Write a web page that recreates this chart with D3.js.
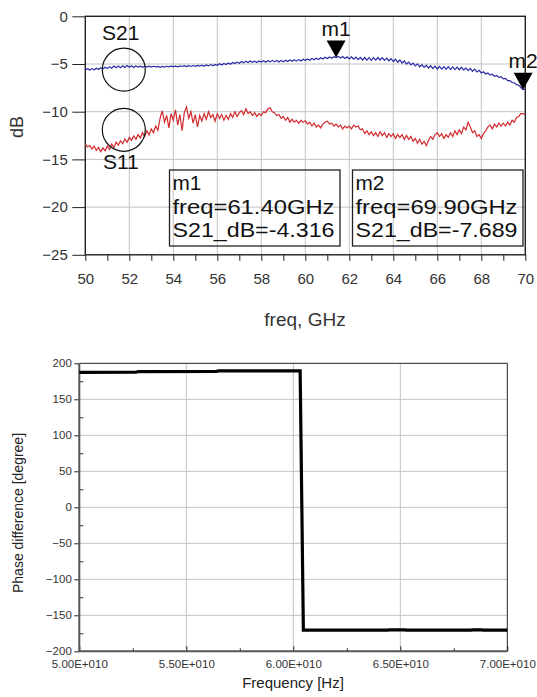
<!DOCTYPE html>
<html>
<head>
<meta charset="utf-8">
<script src="https://cdn.jsdelivr.net/npm/d3@7"></script>
<style>
	body { margin: 0; background: #fff; }
	svg { display: block; font-family: "Liberation Sans", Arial, sans-serif; }
	.grid line { stroke: #c2c2c2; stroke-width: 1; }
	.axis text { fill: #333; }
	.axis line { stroke: #222; }
</style>
</head>
<body>
<svg id="plot" width="537" height="697"></svg>
<script>

// S-parameter sweep, 50 GHz to 70 GHz in 0.1 GHz steps
const SWEEP_START = 50;
const SWEEP_STEP = 0.1;

const S21_DB = [
	-5.62, -5.50, -5.64, -5.48, -5.60, -5.44, -5.58, -5.40, -5.52, -5.34,
	-5.48, -5.28, -5.44, -5.22, -5.40, -5.20, -5.38, -5.18, -5.36, -5.16,
	-5.34, -5.18, -5.36, -5.20, -5.32, -5.22, -5.34, -5.24, -5.30, -5.22,
	-5.32, -5.24, -5.30, -5.26, -5.34, -5.26, -5.32, -5.24, -5.30, -5.22,
	-5.28, -5.22, -5.30, -5.20, -5.26, -5.18, -5.28, -5.18, -5.26, -5.16,
	-5.24, -5.14, -5.22, -5.12, -5.24, -5.10, -5.20, -5.06, -5.18, -5.04,
	-5.14, -4.98, -5.10, -4.94, -5.06, -4.90, -5.02, -4.84, -4.96, -4.80,
	-4.92, -4.74, -4.88, -4.70, -4.84, -4.68, -4.82, -4.70, -4.84, -4.68,
	-4.80, -4.66, -4.82, -4.64, -4.78, -4.62, -4.78, -4.64, -4.80, -4.62,
	-4.76, -4.60, -4.74, -4.58, -4.72, -4.56, -4.70, -4.54, -4.68, -4.50,
	-4.64, -4.48, -4.60, -4.42, -4.56, -4.40, -4.52, -4.34, -4.48, -4.30,
	-4.42, -4.26, -4.40, -4.24, -4.32, -4.20, -4.38, -4.22, -4.42, -4.24,
	-4.46, -4.24, -4.50, -4.28, -4.54, -4.30, -4.58, -4.32, -4.60, -4.34,
	-4.62, -4.34, -4.60, -4.32, -4.58, -4.34, -4.62, -4.38, -4.66, -4.44,
	-4.74, -4.50, -4.82, -4.58, -4.90, -4.68, -5.00, -4.80, -5.10, -4.90,
	-5.20, -4.98, -5.30, -5.06, -5.36, -5.12, -5.42, -5.18, -5.48, -5.22,
	-5.52, -5.26, -5.54, -5.28, -5.56, -5.28, -5.58, -5.30, -5.58, -5.32,
	-5.60, -5.34, -5.64, -5.40, -5.70, -5.46, -5.76, -5.54, -5.84, -5.66,
	-5.94, -5.82, -6.04, -5.94, -6.16, -6.08, -6.28, -6.20, -6.40, -6.34,
	-6.56, -6.52, -6.74, -6.74, -6.94, -6.98, -7.16, -7.22, -7.46, -7.69,
	-7.62
];

const S11_DB = [
	-13.40, -13.70, -13.55, -13.90, -13.60, -14.05, -13.75, -14.20, -13.80, -14.10,
	-13.60, -13.95, -13.40, -13.75, -13.20, -13.50, -13.05, -13.35, -12.85, -13.20,
	-12.70, -13.00, -12.55, -12.90, -12.40, -12.75, -12.20, -12.60, -12.00, -12.45,
	-11.80, -12.20, -11.50, -11.95, -10.70, -9.90, -11.10, -10.40, -11.70, -10.20,
	-10.90, -9.80, -11.40, -10.30, -12.00, -10.10, -9.50, -10.70, -10.00, -11.20,
	-10.30, -11.60, -10.40, -11.00, -10.20, -10.80, -10.00, -10.60, -10.30, -11.00,
	-10.20, -10.70, -10.30, -10.90, -10.40, -10.80, -10.20, -10.60, -10.00, -10.50,
	-10.10, -9.90, -10.30, -9.70, -10.20, -10.00, -10.40, -10.10, -10.50, -10.20,
	-10.40, -10.00, -10.10, -9.70, -9.60, -10.00, -10.10, -10.40, -10.30, -10.70,
	-10.50, -10.90, -10.60, -11.10, -10.80, -11.10, -10.90, -11.20, -10.90, -11.10,
	-10.95, -11.30, -11.10, -11.50, -11.20, -11.60, -11.40, -11.70, -11.30, -11.10,
	-11.00, -11.30, -11.20, -11.50, -11.30, -11.60, -11.40, -11.80, -11.50, -11.70,
	-11.50, -11.80, -11.40, -11.60, -11.50, -11.90, -11.80, -12.30, -12.00, -12.40,
	-12.10, -12.50, -12.20, -12.60, -12.10, -12.50, -12.20, -12.70, -12.30, -12.60,
	-12.30, -12.80, -12.40, -12.70, -12.40, -12.90, -12.50, -12.90, -12.60, -13.10,
	-12.80, -13.30, -12.90, -13.40, -13.10, -13.55, -13.00, -12.60, -12.90, -12.40,
	-12.20, -12.60, -12.30, -12.80, -12.40, -12.70, -12.20, -12.60, -12.00, -12.40,
	-11.90, -12.30, -11.60, -11.90, -11.10, -11.60, -12.20, -12.00, -12.60, -12.40,
	-12.80, -12.30, -12.00, -11.60, -11.40, -11.80, -11.30, -11.60, -11.20, -11.50,
	-11.20, -11.50, -11.10, -11.40, -10.90, -11.10, -10.60, -10.50, -10.20, -10.20,
	-10.30
];

const GHZ_TICKS = [50, 52, 54, 56, 58, 60, 62, 64, 66, 68, 70];
const DB_TICKS = [0, -5, -10, -15, -20, -25];

const MARKER_NAMES = ['m1', 'm2'];
const MARKER_GHZ = [61.40, 69.90];
const MARKER_DB = [-4.316, -7.689];

// phase difference between the two outputs
const PHASE_HZ = [5.00e10, 5.265e10, 5.275e10, 5.640e10, 5.650e10, 6.032e10, 6.047e10, 6.440e10, 6.450e10, 6.520e10, 6.530e10, 6.830e10, 6.840e10, 6.880e10, 6.890e10, 7.00e10];
const PHASE_DEG = [187.5, 187.6, 188.5, 188.6, 189.5, 189.6, -170.6, -170.6, -170.2, -170.2, -170.6, -170.6, -170.2, -170.2, -170.6, -170.6];

const HZ_TICKS = [5.0e10, 5.5e10, 6.0e10, 6.5e10, 7.0e10];
const DEG_TICKS = [-200, -150, -100, -50, 0, 50, 100, 150, 200];


function whenDocumentLoaded(action) {
	if (document.readyState === "loading") {
		document.addEventListener("DOMContentLoaded", action);
	} else {
		action();
	}
}

function styleAxis(g, size) {
	g.select('.domain').remove();
	g.selectAll('text').attr('font-size', size);
	return g;
}

function drawSParams(svg) {
	const box = { left: 85.3, right: 525.3, top: 16.3, bottom: 254.8 };

	const x = d3.scaleLinear().domain([50, 70]).range([box.left, box.right]);
	const y = d3.scaleLinear().domain([-25, 0]).range([box.bottom, box.top]);

	const g = svg.append('g');

	// grid
	const grid = g.append('g').classed('grid', true);
	grid.selectAll('line.v')
		.data(GHZ_TICKS.slice(1, -1))
		.enter().append('line')
			.attr('x1', d => x(d)).attr('x2', d => x(d))
			.attr('y1', box.top).attr('y2', box.bottom);
	grid.selectAll('line.h')
		.data(DB_TICKS.slice(1, -1))
		.enter().append('line')
			.attr('x1', box.left).attr('x2', box.right)
			.attr('y1', d => y(d)).attr('y2', d => y(d));

	// axes
	g.append('g')
		.classed('axis', true)
		.attr('transform', `translate(0,${box.bottom})`)
		.call(d3.axisBottom(x).tickValues(GHZ_TICKS).tickSize(6).tickPadding(12.5).tickFormat(d3.format('d')))
		.call(s => styleAxis(s, 15));
	g.append('g')
		.classed('axis', true)
		.attr('transform', `translate(0,${box.bottom})`)
		.call(d3.axisBottom(x).tickValues(d3.range(51, 70, 2)).tickSize(6).tickFormat(''))
		.call(s => styleAxis(s, 15));
	g.append('g')
		.classed('axis', true)
		.attr('transform', `translate(${box.left},0)`)
		.call(d3.axisLeft(y).tickValues(DB_TICKS).tickSize(13).tickPadding(4.5).tickFormat(d3.format('d')))
		.call(s => styleAxis(s, 15));

	g.append('rect')
		.attr('x', box.left).attr('y', box.top)
		.attr('width', box.right - box.left).attr('height', box.bottom - box.top)
		.attr('fill', 'none').attr('stroke', '#222').attr('stroke-width', 1.4);

	// traces
	const line = d3.line()
		.x((d, i) => x(SWEEP_START + i * SWEEP_STEP))
		.y(d => y(d));

	g.append('path').datum(S11_DB)
		.attr('d', line).attr('fill', 'none')
		.attr('stroke', '#d42a2e').attr('stroke-width', 1.2);
	g.append('path').datum(S21_DB)
		.attr('d', line).attr('fill', 'none')
		.attr('stroke', '#2a2aa8').attr('stroke-width', 1.2);

	// trace circles and names
	const circleGhz = 51.75;
	const circleDb = [-5.6, -11.9];
	const r = 21.5;
	['S21', 'S11'].forEach((name, i) => {
		const cy = y(circleDb[i]);
		g.append('circle')
			.attr('cx', x(circleGhz)).attr('cy', cy).attr('r', r)
			.attr('fill', 'none').attr('stroke', '#111').attr('stroke-width', 1.2);
		g.append('text')
			.text(name)
			.attr('x', x(circleGhz) - 3)
			.attr('y', i === 0 ? cy - r - 8 : cy + r + 17.5)
			.attr('text-anchor', 'middle')
			.attr('font-size', 21)
			.attr('fill', '#111');
	});

	// markers
	MARKER_NAMES.forEach((name, i) => {
		const mx = x(MARKER_GHZ[i]);
		const my = y(MARKER_DB[i]);
		g.append('path')
			.attr('d', 'M0,0L-9.5,-17L9.5,-17Z')
			.attr('transform', `translate(${mx},${my})`)
			.attr('fill', '#000');
		g.append('text')
			.text(name)
			.attr('x', mx).attr('y', my - 21.5)
			.attr('text-anchor', 'middle')
			.attr('font-size', 21)
			.attr('fill', '#111');

		// readout box, three rows of text
		const bx = [169.5, 352.5][i];
		const by = 170;
		g.append('rect')
			.attr('x', bx).attr('y', by)
			.attr('width', 170.5).attr('height', 76)
			.attr('fill', 'none').attr('stroke', '#222').attr('stroke-width', 1.3);
		const rows = [name, 'freq=' + MARKER_GHZ[i].toFixed(2) + 'GHz', 'S21_dB=' + MARKER_DB[i].toFixed(3)];
		g.append('g').selectAll('text')
			.data(rows)
			.enter().append('text')
				.text(d => d)
				.attr('x', bx + 3)
				.attr('y', (d, k) => by + 20 + k * 23.5)
				.attr('font-size', 20.8)
				.attr('textLength', d => d.length > 3 ? 162 : null)
				.attr('lengthAdjust', 'spacingAndGlyphs')
				.attr('fill', '#111');
	});

	g.append('text')
		.text('freq, GHz')
		.attr('x', 305).attr('y', 326)
		.attr('text-anchor', 'middle')
		.attr('font-size', 19)
		.attr('fill', '#333');
	g.append('text')
		.text('dB')
		.attr('transform', 'translate(23,127) rotate(-90)')
		.attr('text-anchor', 'middle')
		.attr('font-size', 18)
		.attr('fill', '#333');
}

function drawPhase(svg) {
	const box = { left: 79.3, right: 507.3, top: 363.3, bottom: 651.3 };

	const x = d3.scaleLinear().domain([5e10, 7e10]).range([box.left, box.right]);
	const y = d3.scaleLinear().domain([-200, 200]).range([box.bottom, box.top]);

	const g = svg.append('g');

	const grid = g.append('g').classed('grid', true);
	grid.selectAll('line.v')
		.data(HZ_TICKS.slice(1, -1))
		.enter().append('line')
			.attr('x1', d => x(d)).attr('x2', d => x(d))
			.attr('y1', box.top).attr('y2', box.bottom);
	grid.selectAll('line.h')
		.data(DEG_TICKS.slice(1, -1))
		.enter().append('line')
			.attr('x1', box.left).attr('x2', box.right)
			.attr('y1', d => y(d)).attr('y2', d => y(d));

	// top and right border
	g.append('path')
		.attr('d', `M${box.left},${box.top}H${box.right}V${box.bottom}`)
		.attr('fill', 'none').attr('stroke', '#222').attr('stroke-width', 1);

	const sci = d => (d / 1e10).toFixed(2) + 'E+010';

	g.append('g')
		.classed('axis', true)
		.attr('transform', `translate(0,${box.bottom})`)
		.call(d3.axisBottom(x).tickValues(HZ_TICKS).tickSize(-5).tickPadding(8.2).tickFormat(sci))
		.call(s => styleAxis(s, 11.5));
	g.append('g')
		.classed('axis', true)
		.attr('transform', `translate(0,${box.bottom})`)
		.call(d3.axisBottom(x).tickValues(d3.range(5.25e10, 7e10, 0.5e10)).tickSize(-3).tickFormat(''))
		.call(s => styleAxis(s, 11.5));
	g.append('g')
		.classed('axis', true)
		.attr('transform', `translate(${box.left},0)`)
		.call(d3.axisLeft(y).tickValues(DEG_TICKS).tickSize(5).tickPadding(2.5).tickFormat(d3.format('d')))
		.call(s => styleAxis(s, 11.5));
	g.append('g')
		.classed('axis', true)
		.attr('transform', `translate(${box.left},0)`)
		.call(d3.axisLeft(y).tickValues(d3.range(-175, 200, 50)).tickSize(-4).tickFormat(''))
		.call(s => styleAxis(s, 11.5));

	g.selectAll('.axis line').attr('stroke', '#444');

	// left and bottom axis lines
	g.append('path')
		.attr('d', `M${box.left},${box.top}V${box.bottom}H${box.right}`)
		.attr('fill', 'none').attr('stroke', '#555').attr('stroke-width', 2);

	const line = d3.line()
		.x((d, i) => x(PHASE_HZ[i]))
		.y(d => y(d));

	g.append('path').datum(PHASE_DEG)
		.attr('d', line).attr('fill', 'none')
		.attr('stroke', '#000').attr('stroke-width', 3.2);

	g.append('text')
		.text('Frequency [Hz]')
		.attr('x', 293).attr('y', 688)
		.attr('text-anchor', 'middle')
		.attr('font-size', 15)
		.attr('fill', '#222');
	g.append('text')
		.text('Phase difference [degree]')
		.attr('transform', 'translate(23,513) rotate(-90)')
		.attr('text-anchor', 'middle')
		.attr('font-size', 14)
		.attr('fill', '#222');
}

whenDocumentLoaded(() => {
	const svg = d3.select('#plot');
	drawSParams(svg);
	drawPhase(svg);
});

</script>
</body>
</html>
